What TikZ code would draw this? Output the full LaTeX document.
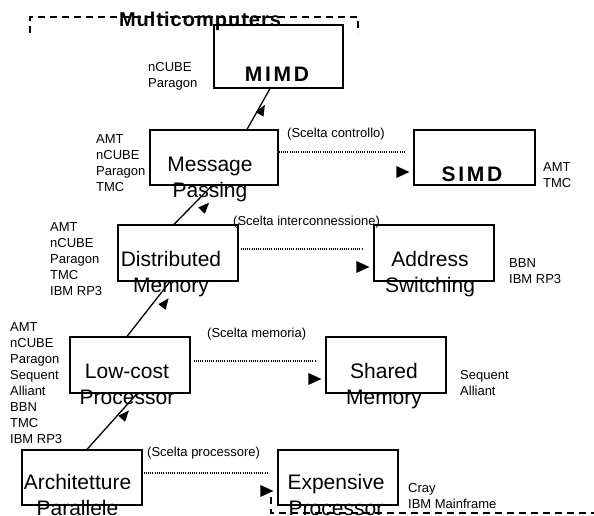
\documentclass[tikz,border=0pt]{standalone}
\usepackage{fontspec}
\setmainfont{Liberation Sans}
\usetikzlibrary{calc}
\begin{document}
\begin{tikzpicture}[x=1pt, y=-1pt,
  box/.style={draw, line width=1.2pt, minimum width=120pt, minimum height=56pt, inner sep=0pt},
  big/.style={font=\fontsize{21}{26}\selectfont, anchor=base, inner sep=0pt},
  bold/.style={font=\fontsize{21}{26}\bfseries\addfontfeature{LetterSpace=13}, anchor=base, inner sep=0pt},
  list/.style={font=\fontsize{13}{16}\selectfont, align=left, anchor=west, inner sep=0pt},
  choice/.style={font=\fontsize{13}{16}\selectfont, anchor=west, inner sep=0pt},
  dotline/.style={line width=1.1pt, dash pattern=on 1pt off 1.2pt},
  link/.style={line width=1.3pt},
  outline/.style={line width=1.2pt, dash pattern=on 7pt off 5pt},
  pics/slanthead/.style={code={\fill (6,0) -- (-5,4.5) -- (-5,-4.5) -- cycle;}},
  pics/righthead/.style={code={\fill (0,0) -- (-13,6) -- (-13,-6) -- cycle;}},
]
\useasboundingbox (0,0) rectangle (594,516);

% boxes
\node[box, minimum width=129pt, minimum height=63pt] (mimd) at (278.5,56.5) {};
\node[box, minimum width=128pt, minimum height=55pt] (mp) at (214,157.5) {};
\node[box, minimum width=121pt, minimum height=55pt] (simd) at (474.5,157.5) {};
\node[box] (dm) at (178,253) {};
\node[box] (as) at (434,253) {};
\node[box] (lp) at (130,365) {};
\node[box] (sm) at (386,365) {};
\node[box, minimum height=55pt] (ap) at (82,477.5) {};
\node[box, minimum height=55pt] (ep) at (338,477.5) {};

% box titles
\node[bold] (mimdt) at (277,82) {MIMD};
\node[bold] (simdt) at (472,181.5) {SIMD};
\node[big] (mpt1) at (210,171) {Message};
\node[big] (mpt2) at (210,197) {Passing};
\node[big] (dmt1) at (171,266) {Distributed};
\node[big] (dmt2) at (171,292) {Memory};
\node[big] (ast1) at (430,266) {Address};
\node[big] (ast2) at (430,292) {Switching};
\node[big] (lpt1) at (127,378) {Low-cost};
\node[big] (lpt2) at (127,404) {Processor};
\node[big] (smt1) at (384,378) {Shared};
\node[big] (smt2) at (384,404) {Memory};
\node[big] (apt1) at (77.5,489) {Architetture};
\node[big] (apt2) at (77.5,515) {Parallele};
\node[big] (ept1) at (336,489) {Expensive};
\node[big] (ept2) at (336,515) {Processor};

% machine lists
\node[list] (mimdl) at (148,76) {nCUBE\\Paragon};
\node[list] (mpl) at (96,163.5) {AMT\\nCUBE\\Paragon\\TMC};
\node[list] (simdl) at (543,175.5) {AMT\\TMC};
\node[list] (dml) at (50,259.5) {AMT\\nCUBE\\Paragon\\TMC\\IBM RP3};
\node[list] (asl) at (509,271.5) {BBN\\IBM RP3};
\node[list] (lpl) at (10,383.5) {AMT\\nCUBE\\Paragon\\Sequent\\Alliant\\BBN\\TMC\\IBM RP3};
\node[list] (sml) at (460,383.5) {Sequent\\Alliant};
\node[list] (epl) at (408,496) {Cray\\IBM Mainframe};

% design choices
\node[choice] (c1) at (287,134) {(Scelta controllo)};
\node[choice] (c2) at (233,222) {(Scelta interconnessione)};
\node[choice] (c3) at (207,334) {(Scelta memoria)};
\node[choice] (c4) at (147,453) {(Scelta processore)};

% upward path of choices
\draw[link] ([xshift=5pt]ap.north) -- ([xshift=7pt]lp.south);
\draw[link] ([xshift=-3pt]lp.north) -- ([xshift=-8pt]dm.south);
\draw[link] ([xshift=-4pt]dm.north) -- ([xshift=-2pt]mp.south);
\draw[link] ([xshift=33pt]mp.north) -- ([xshift=-8.5pt]mimd.south);
\pic[rotate=49] at (125,415) {slanthead};
\pic[rotate=52] at (165,303) {slanthead};
\pic[rotate=46] at (205,207) {slanthead};
\pic[rotate=61] at (262,110) {slanthead};

% alternative branches
\draw[dotline] ([yshift=5.5pt]mp.east) -- ([xshift=-9pt,yshift=5.5pt]simd.west);
\draw[dotline] ([xshift=2pt,yshift=4pt]dm.east) -- ([xshift=-10pt,yshift=4pt]as.west);
\draw[dotline] ([xshift=3pt,yshift=4pt]lp.east) -- ([xshift=-10pt,yshift=4pt]sm.west);
\draw[dotline] ([xshift=1pt,yshift=4.5pt]ap.east) -- ([xshift=-10pt,yshift=4.5pt]ep.west);
\pic at ([xshift=-4pt,yshift=-14.5pt]simd.west) {righthead};
\pic at ([xshift=-4pt,yshift=-14pt]as.west) {righthead};
\pic at ([xshift=-4pt,yshift=-14pt]sm.west) {righthead};
\pic at ([xshift=-4pt,yshift=-13.5pt]ep.west) {righthead};

% multicomputer region
\node[font=\fontsize{20}{24}\bfseries\addfontfeature{LetterSpace=5}, anchor=base, inner sep=0pt] (multi) at (200,27) {Multicomputers};
\draw[outline] (30,33) -- (30,17) -- (358,17) -- (358,33);
\draw[outline] (271,497) -- (271,513) -- (600,513);
\end{tikzpicture}
\end{document}
